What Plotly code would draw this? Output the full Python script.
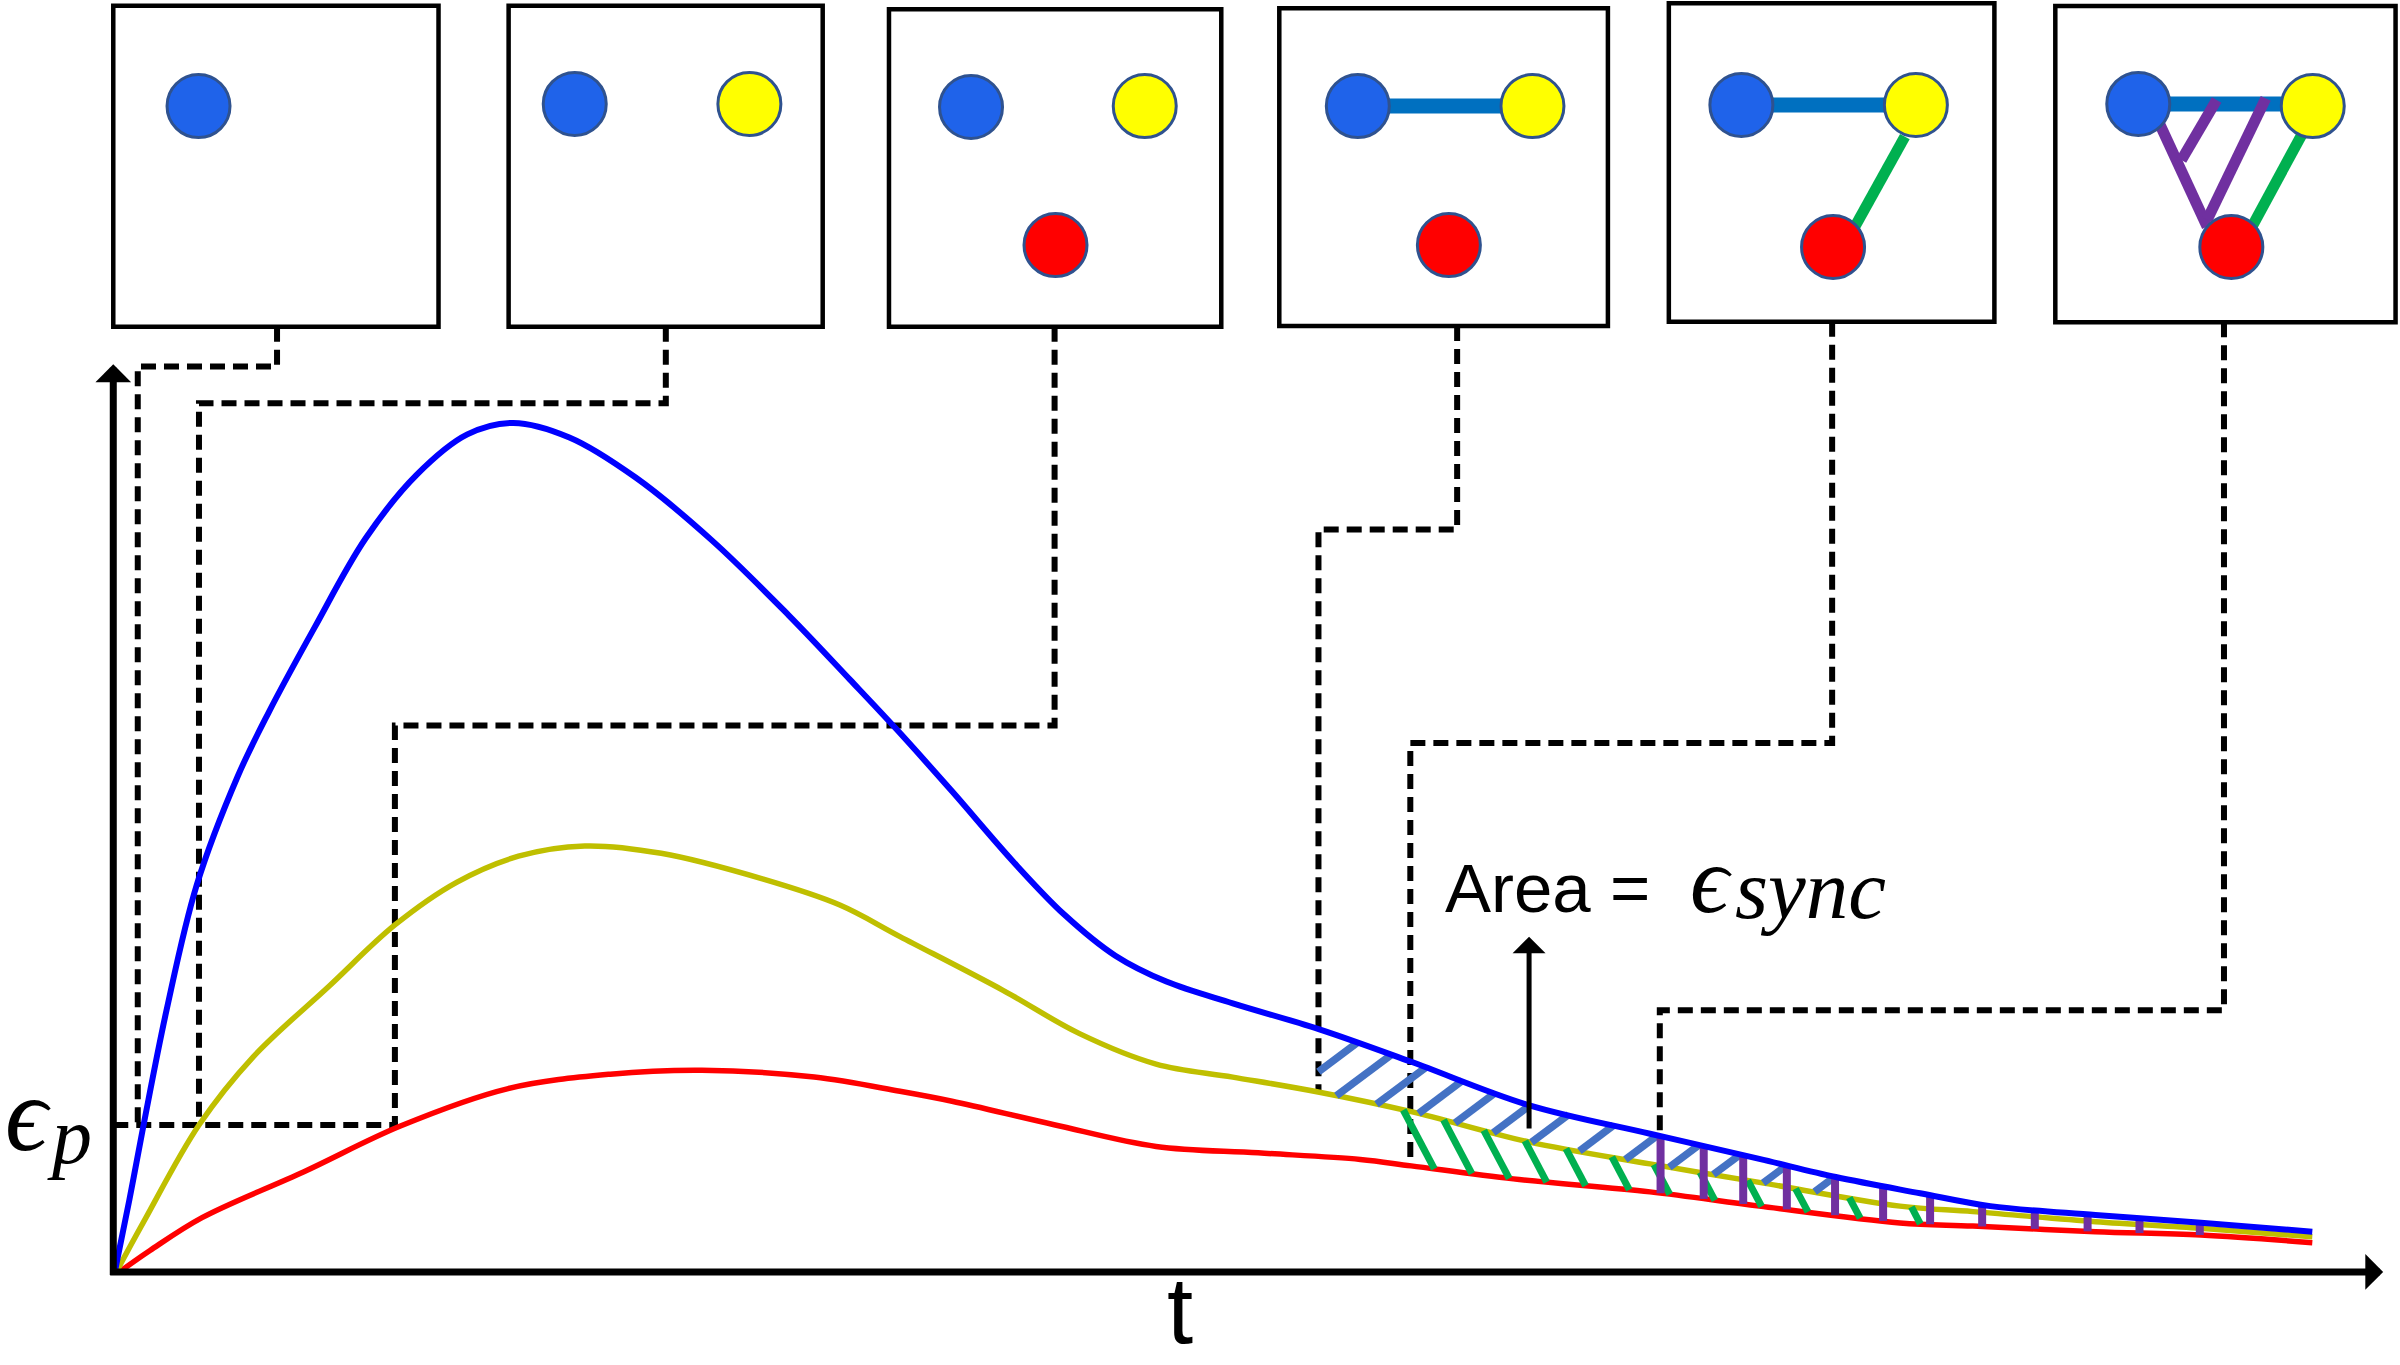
import numpy as np
import plotly.graph_objects as go

# error curves, t vs epsilon (arbitrary units, origin at the axes corner)
t_blue = [1, 10.5, 19.7, 34.7, 54.6, 81.4, 101.4, 131.3, 164.7, 198, 231.3, 261.4,
          298, 341.3, 391.3, 441.3, 481.3, 511.3, 548, 588, 621.3, 654.7, 688, 731.4, 788, 848, 924.7,
          1004, 1075.4, 1125.4, 1180.5, 1226.4, 1295, 1364, 1436.7]
eps_blue = [0, 47, 95.5, 170.5, 253, 324, 365.3, 420.6, 479, 520.6, 547.2, 554.7,
            545.2, 519, 477.8, 429, 387, 355, 314, 268, 233.5, 206.6, 189.7, 175.5, 158.5, 137.3, 109,
            90.3, 73.9, 62, 51.4, 43, 37.2, 32.2, 26.3]

t_yellow = [2, 20, 56, 91.3, 141.3, 184, 224.6, 264.7, 308, 358, 424.7, 474.7, 514,
            581.3, 631.3, 681.3, 731.4, 788, 848, 924.7, 1004, 1075.4, 1167.3, 1214.9, 1295, 1363.9, 1436.7]
eps_yellow = [0, 33, 96, 140.4, 187, 226.7, 254.7, 271.6, 278.3, 273.5, 256.6, 239.7, 219.1,
              184, 155.7, 135.8, 127.3, 117.4, 104.7, 85, 70.6, 58.5, 43, 39.4, 32.8, 28.5, 23]

t_red = [4, 24, 58, 124.6, 188, 258, 324.7, 384.6, 458, 514, 548, 614.7, 681.3, 748, 814.7, 848,
         914.7, 1004, 1075.4, 1167.3, 1214.9, 1295, 1363.9, 1436.7]
eps_red = [0, 14, 35.5, 65.5, 95.5, 119.8, 129.2, 131.8, 127.3, 118, 111.5, 96.2, 82, 77.8, 73.5, 69.3,
           60.8, 52.3, 43, 32, 30, 26.3, 24.1, 19.1]

eps_p = 96

# hatch positions along t
blue_hatch_t = [773, 799.1, 825.3, 852.8, 876.6, 901.6, 926.6, 957.9, 987.9, 1016.6, 1045.4, 1077.9, 1111.6]
green_hatch_t = [842.8, 869.1, 895.4, 922.3, 949.1, 979.1, 1006.6, 1036.7, 1067.9, 1099.1, 1134.2, 1174.8]
purple_hatch_t = [1010.9, 1039.1, 1064.9, 1093.4, 1124.9, 1156.3, 1187, 1221, 1255.4, 1289.9, 1323.8, 1363.2]

# top panels: box extents and graph nodes
boxes = [(0, 212.5, 617.6, 827.3), (258.3, 463.5, 617.6, 827.3), (506.8, 723.9, 617.6, 824.9),
         (761.8, 976.5, 618, 825.6), (1016.3, 1229, 620.8, 828.8), (1268.8, 1491.1, 620.4, 827.1)]
nodes_blue = [(55.7, 761.7), (301.5, 763.1), (560.4, 761.1), (813.1, 761.7), (1063.7, 762.4), (1323, 763.1)]
nodes_yellow = [(415.6, 763.1), (673.9, 761.7), (927.2, 761.7), (1177.7, 762.4), (1437, 761.7)]
nodes_red = [(615.6, 670.9), (872.6, 670.9), (1123.6, 669.6), (1383.8, 669.6)]
edges_blue = [((813.1, 761.7), (927.2, 761.7)), ((1063.7, 762.4), (1177.7, 762.4)), ((1323, 763.1), (1437, 763.1))]
edges_green = [((1170.5, 741.7), (1136.6, 680.7)), ((1430.3, 743.9), (1396.7, 681.8))]
edges_purple = [((1336.8, 750.4), (1368, 682.9)), ((1351.2, 726.5), (1374.2, 765.7)), ((1368, 687.3), (1406.3, 766.8))]


def blue_at(t):
    return np.interp(t, t_blue, eps_blue)


def yellow_at(t):
    return np.interp(t, t_yellow, eps_yellow)


def red_at(t):
    return np.interp(t, t_red, eps_red)


connectors = [
    [(107, 617.6), (107, 591.5), (16, 591.5), (16, eps_p)],
    [(361, 617.6), (361, 567.5), (56, 567.5), (56, eps_p)],
    [(615, 617.6), (615, 357), (184, 357), (184, eps_p)],
    [(878, 618), (878, 485), (787.4, 485), (787.4, yellow_at(787.4))],
    [(1123, 620.8), (1123, 345.6), (847.4, 345.6), (847.4, red_at(847.4))],
    [(1379, 620.4), (1379, 171), (1010.4, 171), (1010.4, blue_at(1010.4))],
    [(0, eps_p), (186, eps_p)],
]

fig = go.Figure()


def add_line(xs, ys, color, width, dash=None, shape='linear'):
    fig.add_scatter(x=xs, y=ys, mode='lines', line=dict(color=color, width=width, dash=dash, shape=shape),
                    hoverinfo='skip', showlegend=False)


for path in connectors:
    add_line([p[0] for p in path], [p[1] for p in path], 'black', 6, '15px,8px')

# hatching between curves
fine = np.linspace(0, 1500, 15001)
bx, by = [], []
for tb in blue_hatch_t:
    eb = yellow_at(tb)
    diff = blue_at(fine) - (eb + 0.75 * (fine - tb))
    ok = (fine > tb) & (diff <= 0)
    tt = fine[ok][0]
    et = eb + 0.75 * (tt - tb)
    if tb < 787.4:
        eb = eb + 0.75 * (787.4 - tb)
        tb = 787.4
    bx += [tb, tt, None]
    by += [eb, et, None]

gx, gy = [], []
for tt in green_hatch_t:
    et = yellow_at(tt)
    diff = (et - 1.9 * (fine - tt)) - red_at(fine)
    ok = (fine > tt) & (diff <= 0)
    tb = fine[ok][0]
    gx += [tt, tb, None]
    gy += [et, red_at(tb), None]

px_, py_ = [], []
for tp in purple_hatch_t:
    px_ += [tp, tp, None]
    py_ += [red_at(tp), blue_at(tp), None]

add_line(t_red, eps_red, '#FF0000', 5.5, shape='spline')
add_line(t_yellow, eps_yellow, '#BFBF00', 5.5, shape='spline')
add_line(gx, gy, '#00B050', 7)
add_line(bx, by, '#4472C4', 7.5)
add_line(px_, py_, '#7030A0', 8)
add_line(t_blue, eps_blue, '#0000FF', 6, shape='spline')

# top panels
for x0, x1, y0, y1 in boxes:
    fig.add_shape(type='rect', x0=x0, x1=x1, y0=y0, y1=y1, xref='x', yref='y',
                  line=dict(color='black', width=4.5), fillcolor='white', layer='below')

for edges, color, width in [(edges_blue, '#0070C0', 15), (edges_green, '#00B050', 11), (edges_purple, '#7030A0', 11)]:
    ex, ey = [], []
    for a, b in edges:
        ex += [a[0], b[0], None]
        ey += [a[1], b[1], None]
    add_line(ex, ey, color, width)

for nodes, color in [(nodes_blue, '#1F63EA'), (nodes_yellow, '#FFFF00'), (nodes_red, '#FF0000')]:
    fig.add_scatter(x=[n[0] for n in nodes], y=[n[1] for n in nodes], mode='markers',
                    marker=dict(size=63, color=color, line=dict(color='#2F528F', width=3)),
                    hoverinfo='skip', showlegend=False)

# axes arrows
arrow = dict(xref='x', yref='y', axref='x', ayref='y', showarrow=True, text='', arrowcolor='black', arrowhead=1)
fig.add_annotation(x=0, y=593, ax=0, ay=-3, arrowwidth=7, arrowsize=0.85, **arrow)
fig.add_annotation(x=1483, y=0, ax=-3, ay=0, arrowwidth=7, arrowsize=0.85, **arrow)
fig.add_annotation(x=925, y=219, ax=925, ay=92.7, arrowwidth=5, arrowsize=1.1, **arrow)

serif = 'Liberation Serif, DejaVu Serif, serif'
fig.add_annotation(x=869, y=250.3, text='Area =', showarrow=False, xanchor='left', yanchor='middle',
                   font=dict(family='Liberation Sans, Arial', size=69, color='black'))
fig.add_annotation(x=1029, y=256.6, text='<i>ϵ</i>', showarrow=False, xanchor='left', yanchor='middle',
                   font=dict(family=serif, size=96, color='black'))
fig.add_annotation(x=1058.5, y=250, text='<i>sync</i>', showarrow=False, xanchor='left', yanchor='middle',
                   font=dict(family=serif, size=85, color='black'))
fig.add_annotation(x=-72, y=102.9, text='<i>ϵ</i>', showarrow=False, xanchor='left', yanchor='middle',
                   font=dict(family=serif, size=105, color='black'))
fig.add_annotation(x=-44.6, y=88.8, text='<i>p</i>', showarrow=False, xanchor='left', yanchor='middle',
                   font=dict(family=serif, size=80, color='black'))
fig.add_annotation(x=697, y=-60.5, text='t', showarrow=False, xanchor='center', yanchor='bottom',
                   font=dict(family='Liberation Sans, Arial', size=94, color='black'))

fig.update_layout(
    width=2400, height=1365,
    margin=dict(l=0, r=0, t=0, b=0),
    paper_bgcolor='white', plot_bgcolor='white',
    xaxis=dict(range=[-74, 1494], visible=False, fixedrange=True),
    yaxis=dict(range=[-60.8, 831], visible=False, fixedrange=True),
    showlegend=False,
)

fig.write_html("out.html", config={'displayModeBar': False},
               post_script="document.body.style.margin='0px';")
